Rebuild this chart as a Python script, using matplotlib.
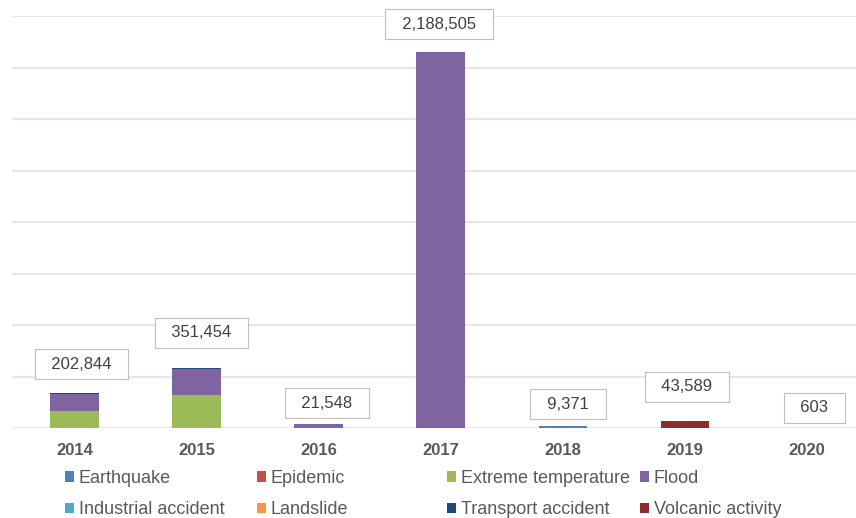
import matplotlib
matplotlib.use("Agg")
import matplotlib.pyplot as plt
from matplotlib.patches import Patch
import numpy as np

plt.rcParams["font.family"] = ["Liberation Sans", "DejaVu Sans"]

YEARS = ["2014", "2015", "2016", "2017", "2018", "2019", "2020"]
CATEGORIES = ["Earthquake", "Epidemic", "Extreme temperature", "Flood",
              "Industrial accident", "Landslide", "Transport accident",
              "Volcanic activity"]
COLORS = ["#4f81bd", "#c0504d", "#9bbb59", "#8064a2",
          "#4bacc6", "#f79646", "#1f497d", "#8c2d2b"]

# people affected per disaster type and year
earthquake = [0, 0, 8000, 0, 9371, 0, 603]
epidemic = [0, 0, 0, 0, 0, 0, 0]
extreme_temperature = [97000, 192000, 0, 0, 0, 0, 0]
flood = [102000, 151000, 13548, 2188505, 0, 0, 0]
industrial_accident = [0, 0, 0, 0, 0, 0, 0]
landslide = [0, 0, 0, 0, 0, 0, 0]
transport_accident = [3844, 8454, 0, 0, 0, 0, 0]
volcanic_activity = [0, 0, 0, 0, 0, 43589, 0]

SERIES = [earthquake, epidemic, extreme_temperature, flood,
          industrial_accident, landslide, transport_accident, volcanic_activity]

# hand placed label boxes (pixel offsets from the bar top)
LABEL_OFFSETS = [(7, 29), (5, 35), (8, 21), (-2, 28), (5, 22), (2, 34), (7, 20)]

fig = plt.figure(figsize=(8.56, 5.18), dpi=100)
ax = fig.add_axes([12 / 856, 1 - 428 / 518, 1 - 12 / 856, 412 / 518])

x = np.arange(len(YEARS))
bottom = np.zeros(len(YEARS))
for values, color, name in zip(SERIES, COLORS, CATEGORIES):
    ax.bar(x, values, width=0.4, bottom=bottom, color=color, label=name, zorder=2)
    bottom += np.array(values)

for i, total in enumerate(bottom):
    dx, dy = LABEL_OFFSETS[i]
    ax.annotate(f"  {int(total):,}  ", xy=(i, total), xytext=(dx, dy),
                textcoords="offset pixels", ha="center", va="center",
                fontsize=12, color="#404040", zorder=3,
                bbox=dict(boxstyle="square,pad=0.45", fc="white",
                          ec="#bfbfbf", lw=0.8))

ax.set_xlim(-0.512, 6.4)
ax.set_ylim(0, 2400000)
ax.set_yticks(np.arange(0, 2400001, 300000))
ax.set_yticklabels([])
ax.set_xticks(x)
ax.set_xticklabels(YEARS, fontsize=12, fontweight="bold", color="#595959")
ax.tick_params(axis="both", length=0)
ax.tick_params(axis="x", pad=11)
ax.yaxis.grid(True, color="#e6e6e6", linewidth=1.5)
ax.set_axisbelow(True)
for spine in ax.spines.values():
    spine.set_visible(False)

# legend: four columns of two entries each
col_x = [65, 257, 447, 640]
for c in range(4):
    idx = [c, c + 4]
    handles = [Patch(facecolor=COLORS[k]) for k in idx]
    fig.legend(handles, [CATEGORIES[k] for k in idx], loc="upper left",
               bbox_to_anchor=(col_x[c] / 856, 1 - 470 / 518),
               frameon=False, fontsize=13, labelcolor="#595959",
               handlelength=0.5, handleheight=0.5, handletextpad=0.25,
               labelspacing=0.8, borderpad=0, borderaxespad=0)

fig.savefig("out.png", dpi=100)
